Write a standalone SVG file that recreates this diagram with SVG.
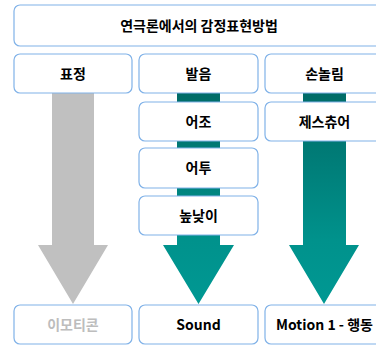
<svg xmlns="http://www.w3.org/2000/svg" width="376" height="347" viewBox="0 0 376 347">
<defs>
<linearGradient id="teal" x1="0" y1="0" x2="0" y2="1" gradientUnits="objectBoundingBox">
<stop offset="0" stop-color="#006B67"/>
<stop offset="0.7" stop-color="#00928C"/>
<stop offset="1" stop-color="#009893"/>
</linearGradient>
<style>
.box{fill:#ffffff;stroke:#80B2E8;stroke-width:1.2}
.t{font-family:"Noto Sans CJK KR","Noto Sans",sans-serif;font-weight:bold;font-size:14px;fill:#000;text-anchor:middle}
.g{fill:#BDBDBD}
</style>
</defs>
<rect width="376" height="347" fill="#ffffff"/>
<g id="connectors">
<path d="M52,93 H94 V245 H108 L73,304 L38,245 H52 Z" fill="#C0C0C0"/>
<path d="M177,93 H220 V245 H234 L198.5,304 L163,245 H177 Z" fill="url(#teal)"/>
<path d="M303,93 H346 V245 H359 L324,304 L289,245 H303 Z" fill="url(#teal)"/>
</g>
<g id="title"><rect class="box" x="14" y="5" width="370" height="41" rx="6"/><text class="t" x="199" y="31">연극론에서의 감정표현방법</text></g>
<g id="n-pyojeong"><rect class="box" x="14" y="54" width="118" height="39" rx="6"/><text class="t" x="73" y="78.5">표정</text></g>
<g id="n-bareum"><rect class="box" x="139" y="54" width="119" height="39" rx="6"/><text class="t" x="198.5" y="78.5">발음</text></g>
<g id="n-sonnolim"><rect class="box" x="265" y="54" width="119" height="39" rx="6"/><text class="t" x="324.5" y="78.5">손놀림</text></g>
<g id="n-eojo"><rect class="box" x="139" y="102" width="119" height="39" rx="6"/><text class="t" x="198.5" y="126.5">어조</text></g>
<g id="n-gesture"><rect class="box" x="265" y="102" width="119" height="39" rx="6"/><text class="t" x="324.5" y="126.5">제스츄어</text></g>
<g id="n-eotu"><rect class="box" x="139" y="148" width="119" height="40" rx="6"/><text class="t" x="198.5" y="173">어투</text></g>
<g id="n-nopnazi"><rect class="box" x="139" y="196" width="119" height="39" rx="6"/><text class="t" x="198.5" y="220.5">높낮이</text></g>
<g id="n-emoticon"><rect class="box" x="14" y="305" width="118" height="39" rx="6"/><text class="t g" x="73" y="329.5">이모티콘</text></g>
<g id="n-sound"><rect class="box" x="139" y="305" width="119" height="39" rx="6"/><text class="t" x="198.5" y="329.5">Sound</text></g>
<g id="n-motion"><rect class="box" x="265" y="305" width="119" height="39" rx="6"/><text class="t" x="324.5" y="329.5">Motion 1 - 행동</text></g>
</svg>
